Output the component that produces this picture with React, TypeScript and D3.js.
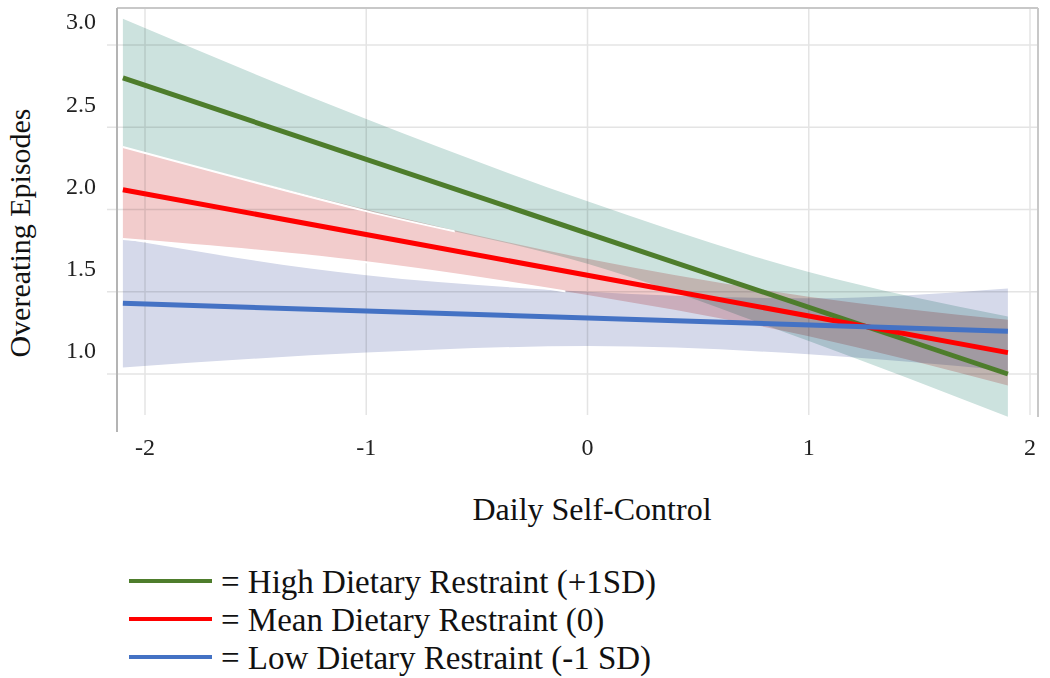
import React from "react";
import * as d3 from "d3";

// x positions where the confidence bands were read
const bandX = [-2.1, -1, 0, 1, 1.9];

const highUpper = [3.16, 2.55, 2.05, 1.62, 1.35];
const highLower = [2.38, 1.99, 1.67, 1.2, 0.74];
const meanUpper = [2.38, 2.0, 1.7, 1.47, 1.33];
const meanLower = [1.82, 1.68, 1.48, 1.23, 0.93];
const lowUpper = [1.82, 1.6, 1.5, 1.46, 1.52];
const lowLower = [1.04, 1.13, 1.17, 1.12, 1.02];

// fitted lines (start, end)
const lineX = [-2.1, 1.9];
const highFit = [2.8, 1.0];
const meanFit = [2.12, 1.13];
const lowFit = [1.43, 1.26];

const xTicks = [-2, -1, 0, 1, 2];
const yTicks = [1.0, 1.5, 2.0, 2.5, 3.0];

const legendLabels = [
  "= High Dietary Restraint (+1SD)",
  "= Mean Dietary Restraint (0)",
  "= Low Dietary Restraint (-1 SD)",
];

const W = 1050;
const H = 678;
const font = "'Liberation Serif', 'Times New Roman', serif";

const App = () => {
  const x = d3.scaleLinear().domain([-2, 2]).range([145, 1030]);
  const y = d3.scaleLinear().domain([1, 3]).range([374, 45]);

  const area = (up: number[], lo: number[]) =>
    d3
      .area<number>()
      .x((d, i) => x(bandX[i]))
      .y0((d, i) => y(lo[i]))
      .y1((d) => y(d))
      .curve(d3.curveMonotoneX)(up) as string;

  const edge = (vals: number[]) =>
    d3
      .line<number>()
      .x((d, i) => x(bandX[i]))
      .y((d) => y(d))
      .curve(d3.curveMonotoneX)(vals) as string;

  const line = (vals: number[]) =>
    d3
      .line<number>()
      .x((d, i) => x(lineX[i]))
      .y((d) => y(d))(vals) as string;

  const series = [
    { up: highUpper, lo: highLower, fit: highFit, fill: "#cce2de", stroke: "#4e7d2c" },
    { up: meanUpper, lo: meanLower, fit: meanFit, fill: "#f2cccc", stroke: "#ff0000" },
    { up: lowUpper, lo: lowLower, fit: lowFit, fill: "#d5d9ea", stroke: "#4472c4" },
  ];

  const left = 117;
  const right = 1038;
  const top = 8;
  const gridBottom = 415;

  return (
    <svg
      width={W}
      height={H}
      style={{ position: "absolute", left: 0, top: 0, background: "#fff" }}
      fontFamily={font}
    >
      <defs>
        <clipPath id="leftPart">
          <rect x={0} y={0} width={x(-0.6)} height={H} />
        </clipPath>
        <clipPath id="leftPart2">
          <rect x={0} y={0} width={x(-0.1)} height={H} />
        </clipPath>
      </defs>
      <rect x={0} y={0} width={W} height={H} fill="#fff" />
      <g style={{ isolation: "isolate" }}>
        {/* horizontal gridlines + ticks */}
        {yTicks.map((t) => (
          <g key={"gy" + t}>
            <line x1={107} x2={right} y1={y(t)} y2={y(t)} stroke="#e4e4e4" strokeWidth={1.5} />
            <text x={96} y={y(t) - 24} dy="0.35em" textAnchor="end" fontSize={24} fill="#222">
              {t.toFixed(1)}
            </text>
          </g>
        ))}
        {/* vertical gridlines */}
        {xTicks.map((t) => (
          <g key={"gx" + t}>
            <line x1={x(t)} x2={x(t)} y1={top} y2={gridBottom} stroke="#e4e4e4" strokeWidth={1.5} />
            <text x={x(t)} y={447} dy="0.35em" textAnchor="middle" fontSize={24} fill="#222">
              {t}
            </text>
          </g>
        ))}
        {/* frame */}
        <line x1={left} x2={right} y1={top} y2={top} stroke="#c8c8c8" strokeWidth={2} />
        <line x1={left} x2={left} y1={top} y2={432} stroke="#b4b4b4" strokeWidth={2} />
        <line x1={right} x2={right} y1={top} y2={417} stroke="#c8c8c8" strokeWidth={2} />

        {/* confidence bands, multiplied so overlaps turn grey */}
        {series.map((s, i) => (
          <path
            key={"band" + i}
            d={area(s.up, s.lo)}
            fill={s.fill}
            style={{ mixBlendMode: "multiply" }}
          />
        ))}
      </g>
      {/* thin white seams where bands meet */}
      <path d={edge(highLower)} fill="none" stroke="#fff" strokeWidth={2} clipPath="url(#leftPart)" />
      <path d={edge(meanLower)} fill="none" stroke="#fff" strokeWidth={2} clipPath="url(#leftPart2)" />

      {/* fitted lines */}
      {series.map((s, i) => (
        <path key={"line" + i} d={line(s.fit)} fill="none" stroke={s.stroke} strokeWidth={5} />
      ))}

      {/* axis titles */}
      <text
        transform={`translate(19,233) rotate(-90)`}
        textAnchor="middle"
        dy="0.35em"
        fontSize={30}
        fill="#111"
      >
        Overeating Episodes
      </text>
      <text x={592} y={509} textAnchor="middle" dy="0.35em" fontSize={32} fill="#111">
        Daily Self-Control
      </text>

      {/* legend */}
      {legendLabels.map((lab, i) => (
        <g key={"leg" + i} transform={`translate(0,${581 + i * 38})`}>
          <line x1={129} x2={212} y1={0} y2={0} stroke={series[i].stroke} strokeWidth={4} />
          <text x={221} y={0} dy="0.35em" fontSize={33} fill="#111">
            {lab}
          </text>
        </g>
      ))}
    </svg>
  );
};

export default App;
